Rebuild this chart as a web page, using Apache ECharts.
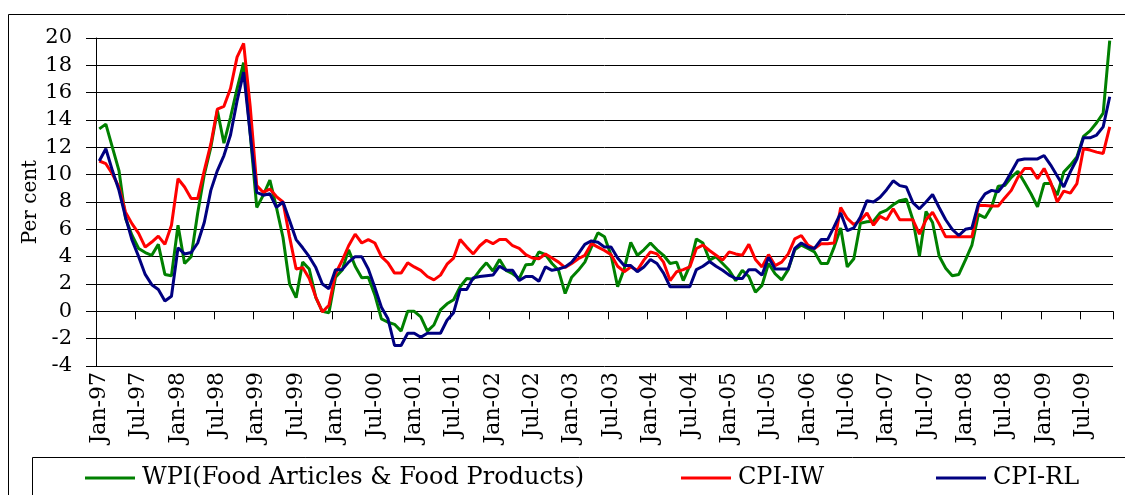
<!DOCTYPE html>
<html>
<head>
<meta charset="utf-8">
<script src="https://cdn.jsdelivr.net/npm/echarts@6/dist/echarts.min.js"></script>
<style>
html,body{margin:0;padding:0;background:#fff;}
#chart{width:1125px;height:495px;}
</style>
</head>
<body>
<div id="chart"></div>
<script>
const MONTHS = ['Jan','Feb','Mar','Apr','May','Jun','Jul','Aug','Sep','Oct','Nov','Dec'];
const YEARS = ['97','98','99','00','01','02','03','04','05','06','07','08','09'];
const N_MONTHS = 155; // Jan-97 .. Nov-09

const categories = [];
for (const y of YEARS) for (const m of MONTHS) if (categories.length < N_MONTHS) categories.push(m + '-' + y);

const SERIES_NAMES = ['WPI(Food Articles & Food Products)', 'CPI-IW', 'CPI-RL'];

const wpi = [
 13.35, 13.7, 12.0, 10.3, 6.8, 5.55, 4.6, 4.3, 4.1, 4.9,
 2.7, 2.6, 6.3, 3.5, 4.0, 7.2, 10.0, 12.0, 14.7, 12.3,
 14.2, 16.3, 18.2, 13.0, 7.6, 8.5, 9.6, 7.6, 5.4, 2.0,
 1.0, 3.6, 3.1, 1.0, 0.0, -0.1, 2.5, 3.0, 4.5, 3.3,
 2.45, 2.5, 1.2, -0.55, -0.8, -0.95, -1.45, 0.0, 0.0, -0.4,
 -1.45, -1.0, 0.1, 0.55, 0.85, 1.8, 2.4, 2.35, 3.0, 3.55,
 2.95, 3.8, 3.0, 2.75, 2.4, 3.4, 3.45, 4.35, 4.15, 3.5,
 3.0, 1.3, 2.5, 3.0, 3.6, 4.7, 5.75, 5.45, 4.1, 1.8,
 3.1, 5.05, 4.1, 4.5, 5.0, 4.5, 4.1, 3.5, 3.6, 2.25,
 3.35, 5.3, 5.0, 3.75, 4.0, 3.5, 3.0, 2.25, 3.0, 2.55,
 1.4, 1.9, 3.5, 2.75, 2.3, 3.05, 4.5, 4.85, 4.6, 4.35,
 3.5, 3.5, 4.7, 6.1, 3.25, 3.85, 6.45, 6.55, 6.6, 7.2,
 7.4, 7.8, 8.1, 8.2, 6.7, 4.05, 7.3, 6.5, 4.05, 3.15,
 2.6, 2.7, 3.75, 4.85, 7.1, 6.85, 7.65, 9.15, 9.2, 9.8,
 10.25, 9.45, 8.6, 7.65, 9.35, 9.35, 8.5, 10.2, 10.7, 11.3,
 12.8, 13.2, 13.8, 14.5, 19.8
];

const cpiIW = [
 11.0, 10.8, 10.05, 9.1, 7.25, 6.4, 5.7, 4.7, 5.07, 5.5,
 4.9, 6.3, 9.7, 9.1, 8.25, 8.25, 10.3, 12.25, 14.8, 15.0,
 16.3, 18.6, 19.6, 15.0, 9.2, 8.7, 8.95, 8.4, 8.0, 5.45,
 3.1, 3.2, 2.4, 1.05, -0.05, 0.45, 2.75, 3.7, 4.8, 5.65,
 5.0, 5.25, 5.0, 4.0, 3.55, 2.8, 2.8, 3.55, 3.25, 3.0,
 2.55, 2.3, 2.65, 3.45, 3.9, 5.25, 4.7, 4.2, 4.8, 5.2,
 4.95, 5.25, 5.25, 4.8, 4.6, 4.15, 3.9, 3.85, 4.2, 3.9,
 3.6, 3.2, 3.5, 3.85, 4.1, 4.95, 4.7, 4.45, 4.15, 3.3,
 2.9, 3.25, 3.0, 3.75, 4.35, 4.2, 3.6, 2.25, 2.9, 3.05,
 3.25, 4.6, 4.85, 4.45, 4.1, 3.75, 4.35, 4.2, 4.1, 4.9,
 3.8, 3.25, 4.15, 3.35, 3.6, 4.2, 5.3, 5.55, 4.85, 4.6,
 4.95, 4.95, 5.0, 7.6, 6.8, 6.35, 6.65, 7.2, 6.3, 6.95,
 6.7, 7.5, 6.7, 6.7, 6.7, 5.65, 6.7, 7.25, 6.4, 5.45,
 5.45, 5.45, 5.45, 5.45, 7.75, 7.75, 7.7, 7.7, 8.3, 8.85,
 9.8, 10.45, 10.45, 9.7, 10.45, 9.45, 8.0, 8.8, 8.65, 9.35,
 11.9, 11.8, 11.65, 11.55, 13.5
];

const cpiRL = [
 11.0, 11.9, 10.3, 8.85, 6.9, 5.2, 4.0, 2.7, 1.95, 1.6,
 0.75, 1.1, 4.65, 4.2, 4.3, 5.0, 6.5, 8.85, 10.3, 11.4,
 12.9, 15.4, 17.5, 13.0, 8.7, 8.5, 8.6, 7.6, 8.0, 6.65,
 5.25, 4.65, 4.0, 3.2, 2.0, 1.65, 3.05, 3.05, 3.6, 4.0,
 4.0, 3.1, 1.75, 0.3, -0.55, -2.5, -2.5, -1.6, -1.6, -1.9,
 -1.6, -1.6, -1.6, -0.65, -0.1, 1.6, 1.6, 2.45, 2.55, 2.6,
 2.65, 3.3, 3.0, 3.0, 2.25, 2.55, 2.55, 2.2, 3.25, 3.0,
 3.1, 3.25, 3.6, 4.2, 4.9, 5.15, 5.05, 4.7, 4.7, 3.9,
 3.35, 3.35, 2.9, 3.25, 3.8, 3.5, 2.8, 1.8, 1.8, 1.8,
 1.8, 3.05, 3.3, 3.65, 3.3, 3.0, 2.65, 2.4, 2.4, 3.05,
 3.05, 2.65, 3.95, 3.1, 3.1, 3.1, 4.6, 5.0, 4.7, 4.6,
 5.25, 5.25, 6.2, 7.2, 5.9, 6.1, 6.9, 8.1, 8.0, 8.35,
 8.9, 9.55, 9.2, 9.1, 7.95, 7.5, 8.0, 8.55, 7.6, 6.7,
 6.0, 5.55, 6.0, 6.1, 7.9, 8.6, 8.85, 8.75, 9.35, 10.2,
 11.05, 11.15, 11.15, 11.15, 11.4, 10.7, 9.9, 9.1, 10.2, 11.15,
 12.7, 12.7, 12.9, 13.5, 15.7
];

const Y_MIN = -4, Y_MAX = 20, Y_STEP = 2;
const FONT = "'DejaVu Serif', 'Liberation Serif', serif";

const chart = echarts.init(document.getElementById('chart'), null, {renderer: 'canvas'});

function legendFor(name, left) {
  return {
    data: [name], left: left, top: 466, padding: 0, itemGap: 0,
    icon: 'rect', itemWidth: 50, itemHeight: 3,
    textStyle: {fontFamily: FONT, fontSize: 24, color: '#000', padding: [0, 0, 0, 2]},
    selectedMode: false
  };
}

chart.setOption({
  animation: false,
  backgroundColor: '#fff',
  grid: {left: 96, right: 12, top: 38, bottom: 129, containLabel: false},
  legend: [
    legendFor(SERIES_NAMES[0], 85),
    legendFor(SERIES_NAMES[1], 681),
    legendFor(SERIES_NAMES[2], 936)
  ],
  xAxis: [
    {
      type: 'category', data: categories, boundaryGap: true,
      axisLine: {show: true, onZero: true, lineStyle: {color: '#000', width: 1}},
      axisTick: {show: true, interval: 5, length: 8, lineStyle: {color: '#000', width: 1}},
      axisLabel: {show: false},
      splitLine: {show: false}
    },
    {
      type: 'category', data: categories, boundaryGap: true, position: 'bottom',
      axisLine: {show: false, onZero: false},
      axisTick: {show: false},
      axisLabel: {interval: 5, rotate: 90, fontFamily: FONT, fontSize: 22, color: '#000', margin: 6},
      splitLine: {show: false}
    }
  ],
  yAxis: {
    type: 'value', min: Y_MIN, max: Y_MAX, interval: Y_STEP,
    name: 'Per cent', nameLocation: 'middle', nameGap: 55, nameMoveOverlap: false,
    nameTextStyle: {fontFamily: FONT, fontSize: 20, color: '#000'},
    axisLine: {show: true, lineStyle: {color: '#000', width: 1}},
    axisTick: {show: true, length: 10, lineStyle: {color: '#000', width: 1}},
    axisLabel: {fontFamily: FONT, fontSize: 21, color: '#000', margin: 24},
    splitLine: {show: true, lineStyle: {color: '#000', width: 1}}
  },
  series: [
    {name: SERIES_NAMES[0], type: 'line', data: wpi, showSymbol: false, symbol: 'none',
     lineStyle: {color: '#008000', width: 3}, itemStyle: {color: '#008000'}},
    {name: SERIES_NAMES[1], type: 'line', data: cpiIW, showSymbol: false, symbol: 'none',
     lineStyle: {color: '#ff0000', width: 3}, itemStyle: {color: '#ff0000'}},
    {name: SERIES_NAMES[2], type: 'line', data: cpiRL, showSymbol: false, symbol: 'none',
     lineStyle: {color: '#000080', width: 3}, itemStyle: {color: '#000080'}}
  ],
  graphic: [
    {type: 'rect', silent: true, z: -10, shape: {x: 8.5, y: 14.5, width: 1200, height: 600},
     style: {fill: 'none', stroke: '#000', lineWidth: 1}},
    {type: 'rect', silent: true, z: -10, shape: {x: 32.5, y: 457.5, width: 1200, height: 100},
     style: {fill: 'none', stroke: '#000', lineWidth: 1}}
  ]
});
</script>
</body>
</html>
